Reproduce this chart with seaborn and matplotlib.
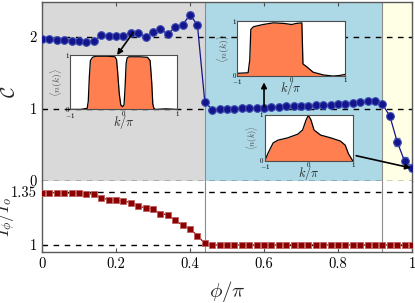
import matplotlib
matplotlib.use("Agg")
import matplotlib.pyplot as plt
import seaborn as sns

# datos
phi = [0.00, 0.02, 0.04, 0.06, 0.08, 0.10, 0.12, 0.14, 0.16, 0.18,
       0.20, 0.22, 0.24, 0.26, 0.28, 0.30, 0.32, 0.34, 0.36, 0.38,
       0.40, 0.42, 0.44, 0.46, 0.48, 0.50, 0.52, 0.54, 0.56, 0.58,
       0.60, 0.62, 0.64, 0.66, 0.68, 0.70, 0.72, 0.74, 0.76, 0.78,
       0.80, 0.82, 0.84, 0.86, 0.88, 0.90, 0.92, 0.94, 0.96, 0.98, 1.00]

chern = [1.97, 1.97, 1.965, 1.96, 1.95, 1.94, 1.93, 1.94, 2.03, 2.02,
         2.02, 2.02, 2.05, 2.06, 2.00, 2.07, 2.11, 2.04, 2.14, 2.17,
         2.31, 2.17, 1.10, 0.99, 0.995, 1.00, 1.005, 1.01, 1.015, 1.02,
         1.02, 1.025, 1.03, 1.035, 1.04, 1.04, 1.045, 1.05, 1.055, 1.06,
         1.065, 1.075, 1.09, 1.10, 1.11, 1.115, 1.065, 0.90, 0.54, 0.27, 0.185]

chern_err = [0.01, 0.01, 0.01, 0.01, 0.01, 0.01, 0.01, 0.01, 0.015, 0.015,
             0.015, 0.015, 0.02, 0.02, 0.02, 0.025, 0.025, 0.025, 0.03, 0.035,
             0.04, 0.04, 0.015, 0.01, 0.01, 0.01, 0.01, 0.01, 0.01, 0.01,
             0.01, 0.01, 0.01, 0.01, 0.01, 0.01, 0.01, 0.01, 0.01, 0.01,
             0.01, 0.01, 0.015, 0.015, 0.015, 0.015, 0.02, 0.04, 0.06, 0.06, 0.05]

ratio = [1.346, 1.346, 1.344, 1.343, 1.342, 1.34, 1.338, 1.336, 1.31, 1.30,
         1.296, 1.29, 1.28, 1.254, 1.247, 1.238, 1.207, 1.199, 1.163, 1.13,
         1.106, 1.062, 1.01, 1.0, 1.0, 1.0, 1.0, 1.0, 1.0, 1.0,
         1.0, 1.0, 1.0, 1.0, 1.0, 1.0, 1.0, 1.0, 1.0, 1.0,
         1.0, 1.0, 1.0, 1.0, 1.0, 1.0, 1.0, 1.0, 1.0, 1.0, 1.0]

fase_bordes = [0.0, 0.44, 0.92, 1.0]
fase_colores = ["#d9d9d9", "#add8e6", "#ffffe6"]

# distribuciones n(k) de los insets
k1 = [-1.0, -0.8, -0.68, -0.66, -0.64, -0.62, -0.58, -0.52, -0.3, -0.16, -0.13,
      -0.11, -0.08, -0.05, -0.02, 0.01, 0.03, 0.05, 0.07, 0.1, 0.3, 0.45, 0.5,
      0.53, 0.55, 0.57, 0.6, 0.8, 1.0]
n1 = [0.0, 0.0, 0.02, 0.15, 0.6, 0.9, 0.96, 0.98, 0.98, 0.97, 0.92,
      0.7, 0.3, 0.08, 0.05, 0.08, 0.4, 0.85, 0.95, 0.97, 0.97, 0.96, 0.9,
      0.5, 0.1, 0.02, 0.0, 0.01, 0.0]

k2 = [-1.0, -0.8, -0.77, -0.75, -0.7, -0.52, -0.33, -0.14, 0.01, 0.1, 0.2,
      0.21, 0.22, 0.29, 0.41, 0.6, 0.78, 0.9, 1.0]
n2 = [0.05, 0.06, 0.29, 0.85, 0.9, 0.94, 0.97, 0.96, 0.94, 0.96, 0.97,
      0.6, 0.22, 0.17, 0.07, 0.02, 0.0, 0.01, 0.03]

k3 = [-1.0, -0.93, -0.81, -0.7, -0.48, -0.25, -0.14, -0.06, -0.01, 0.05,
      0.12, 0.27, 0.5, 0.72, 0.83, 0.9, 1.0]
n3 = [0.0, 0.16, 0.39, 0.45, 0.5, 0.58, 0.67, 0.89, 0.99, 0.89,
      0.67, 0.56, 0.5, 0.43, 0.34, 0.16, 0.0]

sns.set_style("ticks")
plt.rcParams["font.family"] = ["cmr10", "DejaVu Serif"]
plt.rcParams["mathtext.fontset"] = "cm"
plt.rcParams["axes.formatter.use_mathtext"] = True
plt.rcParams["axes.unicode_minus"] = False

fig = plt.figure(figsize=(4.15, 3.03), dpi=100)
ax_top = fig.add_axes([0.101, 0.403, 0.892, 0.591])
ax_bot = fig.add_axes([0.101, 0.168, 0.892, 0.235])

# regiones de fase
for i in range(3):
    ax_top.axvspan(fase_bordes[i], fase_bordes[i + 1], color=fase_colores[i], lw=0, zorder=0)
for b in fase_bordes[1:3]:
    ax_top.axvline(b, color="0.55", lw=0.8, zorder=1)
    ax_bot.axvline(b, color="0.55", lw=0.8, zorder=1)

for y in [0, 1, 2]:
    ax_top.axhline(y, color="k", ls=(0, (4, 4)), lw=1, zorder=1)
for y in [1.35, 1]:
    ax_bot.axhline(y, color="k", ls=(0, (4, 4)), lw=1, zorder=1)

# panel superior
ax_top.errorbar(phi, chern, yerr=chern_err, fmt="none", ecolor="#6b7fc4",
                elinewidth=0.8, capsize=2, zorder=2)
sns.lineplot(x=phi, y=chern, ax=ax_top, color="#14148c", lw=0.9, marker="o",
             markersize=5.5, markeredgecolor="#3a4ab0", markeredgewidth=0.8, zorder=3)

# panel inferior
sns.lineplot(x=phi, y=ratio, ax=ax_bot, color="#8b0000", lw=0.9, marker="s",
             markersize=5, markeredgecolor="#c06060", markeredgewidth=0.6, zorder=3)

ax_top.set_xlim(0, 1)
ax_bot.set_xlim(0, 1)
ax_top.set_ylim(0, 2.49)
ax_bot.set_ylim(0.953, 1.423)

ax_top.set_yticks([0, 1, 2])
ax_top.set_yticklabels(["0", "1", "2"])
ax_bot.set_yticks([1, 1.35])
ax_bot.set_yticklabels(["1", "1.35"])
ax_bot.set_xticks([0, 0.2, 0.4, 0.6, 0.8, 1])
ax_bot.set_xticklabels(["0", "0.2", "0.4", "0.6", "0.8", "1"])
ax_top.set_xticks([0, 0.2, 0.4, 0.6, 0.8, 1])
ax_top.set_xticklabels([])

for ax in [ax_top, ax_bot]:
    ax.tick_params(direction="in", length=3, width=0.8, top=True, right=True,
                   labelsize=10.5, colors="0.3", labelcolor="k")
    for s in ax.spines.values():
        s.set_color("0.35")
        s.set_linewidth(1)
ax_top.spines["bottom"].set_visible(False)
ax_bot.spines["top"].set_visible(False)
ax_top.tick_params(bottom=False)
ax_bot.tick_params(top=False)

ax_top.set_ylabel(r"$\mathcal{C}$", fontsize=14)
ax_top.yaxis.set_label_coords(-0.062, 0.5)
ax_bot.set_ylabel(r"$I_\phi/I_o$", fontsize=12.5)
ax_bot.yaxis.set_label_coords(-0.064, 0.5)
ax_bot.set_xlabel(r"$\phi/\pi$", fontsize=15)
ax_bot.xaxis.set_label_coords(0.5, -0.38)

# flechas hacia los insets
flecha = dict(arrowstyle="-|>", color="k", lw=1.2, mutation_scale=8, shrinkA=0, shrinkB=0)
ax_top.annotate("", xy=(0.203, 1.75), xytext=(0.246, 2.06), arrowprops=flecha, zorder=6)
ax_top.annotate("", xy=(0.600, 1.37), xytext=(0.600, 1.03), arrowprops=flecha, zorder=6)
ax_top.annotate("", xy=(0.997, 0.18), xytext=(0.849, 0.35), arrowprops=flecha, zorder=6)


def inset(rect, k, n, fs_y):
    ax_in = fig.add_axes(rect)
    ax_in.set_facecolor("white")
    ax_in.fill_between(k, n, 0, color="#ff7f50", lw=0)
    sns.lineplot(x=k, y=n, ax=ax_in, color="k", lw=0.9)
    ax_in.set_xlim(-1, 1)
    ax_in.set_ylim(0, 1)
    ax_in.set_xticks([-1, 0, 1])
    ax_in.set_xticklabels([r"$-1$", "0", "1"])
    ax_in.set_yticks([0, 1])
    ax_in.set_yticklabels(["0", "1"])
    ax_in.tick_params(direction="in", length=2, width=0.5, labelsize=5, pad=1,
                      colors="0.4", labelcolor="k")
    for s in ax_in.spines.values():
        s.set_color("0.3")
        s.set_linewidth(0.8)
    ax_in.set_ylabel(r"$\langle n(k)\rangle$", fontsize=fs_y, labelpad=0, color="0.3")
    ax_in.set_xlabel(r"$k/\pi$", fontsize=9, labelpad=-5)
    return ax_in


inset([0.169, 0.639, 0.257, 0.179], k1, n1, 7)
inset([0.572, 0.749, 0.259, 0.181], k2, n2, 7)
inset([0.638, 0.469, 0.212, 0.152], k3, n3, 6)

fig.savefig("out.png", dpi=100)
plt.close()
